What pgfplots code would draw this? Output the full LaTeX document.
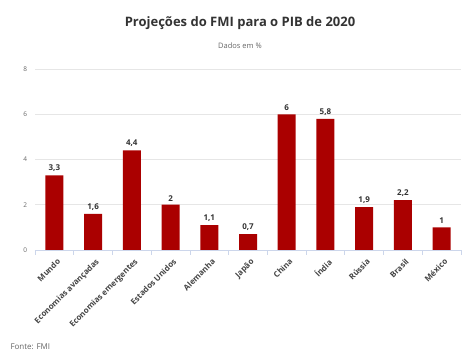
\documentclass[border=0pt]{standalone}
\usepackage{pgfplots}
\pgfplotsset{compat=1.18}
\usepackage{fontspec}
\setmainfont{Open Sans}
\definecolor{barred}{HTML}{AA0000}
\definecolor{txtgrey}{HTML}{333333}
\definecolor{lblgrey}{HTML}{444444}
\definecolor{tickgrey}{HTML}{666666}
\definecolor{gridgrey}{HTML}{E6E6E6}
\definecolor{axgrey}{HTML}{CCD6EB}
\begin{document}
\begin{tikzpicture}
\useasboundingbox (0pt,0pt) rectangle (474pt,356pt);
\node[font=\bfseries\fontsize{13}{15}\selectfont, text=txtgrey] at (240pt,333pt) {Projeções do FMI para o PIB de 2020};
\node[font=\fontsize{7.5}{9}\selectfont, text=tickgrey] at (240pt,310pt) {Dados em \%};
\node[font=\fontsize{8}{10}\selectfont, text=tickgrey, anchor=west] at (7pt,9pt) {Fonte: FMI};
\begin{axis}[
  at={(35pt,106pt)}, anchor=south west,
  scale only axis, width=426pt, height=181pt,
  xmin=-0.5, xmax=10.5, ymin=0, ymax=8,
  ybar, bar width=18pt,
  axis x line*=bottom,
  axis y line*=left,
  y axis line style={draw=none},
  x axis line style={draw=axgrey, line width=0.8pt},
  ytick={0,2,4,6,8},
  ytick style={draw=none},
  ymajorgrids, grid style={gridgrey, line width=0.8pt},
  yticklabel style={font=\fontsize{6.5}{8}\selectfont, text=tickgrey},
  /pgf/number format/assume math mode=true,
  xtick={0,...,10},
  major x tick style={draw=none},
  minor xtick={-0.5,0.5,...,10.5},
  minor x tick style={draw=axgrey, line width=0.8pt},
  minor tick length=5pt,
  tick align=outside,
  xticklabels={Mundo,Economias avançadas,Economias emergentes,Estados Unidos,Alemanha,Japão,China,Índia,Rússia,Brasil,México},
  xticklabel style={rotate=45, anchor=north east, font=\bfseries\fontsize{8}{9}\selectfont, text=lblgrey, inner sep=1pt, yshift=-3pt},
  nodes near coords,
  nodes near coords style={font=\bfseries\fontsize{8}{9}\selectfont, text=txtgrey, /pgf/number format/use comma, /pgf/number format/assume math mode=true},
]
\addplot[fill=barred, draw=none] coordinates {(0,3.3) (1,1.6) (2,4.4) (3,2) (4,1.1) (5,0.7) (6,6) (7,5.8) (8,1.9) (9,2.2) (10,1)};
\end{axis}
\end{tikzpicture}
\end{document}
